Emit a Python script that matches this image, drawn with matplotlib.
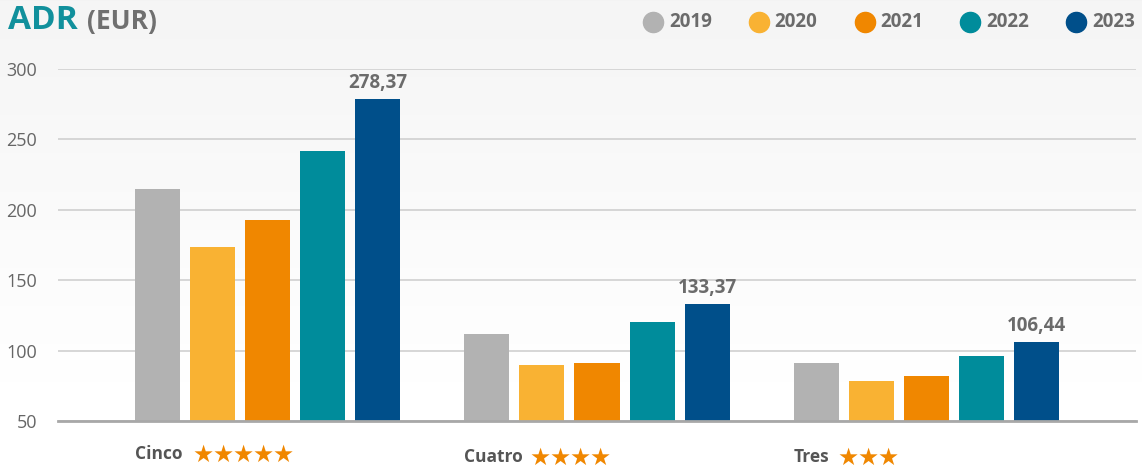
import matplotlib
matplotlib.use('Agg')
import matplotlib.pyplot as plt
import numpy as np
from matplotlib.lines import Line2D
import matplotlib.transforms as mtransforms

# ---------------- data ----------------
categories = ['Cinco', 'Cuatro', 'Tres']
star_counts = [5, 4, 3]
years = ['2019', '2020', '2021', '2022', '2023']
v2019 = [214.8, 111.8, 91.2]
v2020 = [173.6, 89.8, 78.4]
v2021 = [192.8, 91.2, 82.0]
v2022 = [241.8, 120.3, 96.2]
v2023 = [278.37, 133.37, 106.44]
labels_2023 = ['278,37', '133,37', '106,44']
yticks = [50, 100, 150, 200, 250, 300]

series = [v2019, v2020, v2021, v2022, v2023]
colors = ['#b2b2b2', '#f9b233', '#f08700', '#008c9b', '#004f8a']

W, H = 1142, 468
FONT = 'Open Sans'
GRAY_TXT = '#6b6b6b'

fig = plt.figure(figsize=(W / 100, H / 100), dpi=100)

# background gradient (light grey at top -> white near the axis)
bg = fig.add_axes([0, 0, 1, 1], zorder=-10)
rows = np.arange(H)
col = 0.957 + (1 - 0.957) * np.clip(rows / 420.0, 0, 1)
img = np.repeat(col[:, None], 4, axis=1)
bg.imshow(img, cmap='gray', vmin=0, vmax=1, aspect='auto',
          extent=[0, 1, 0, 1], interpolation='nearest')
bg.set_xlim(0, 1)
bg.set_ylim(0, 1)
bg.axis('off')

ax = fig.add_axes([58 / W, (H - 421) / H, 1078 / W, 352 / H])
ax.set_facecolor('none')

pitch = 55 / 329
width = 45 / 329
x = np.arange(len(categories))
for j, (vals_, c) in enumerate(zip(series, colors)):
    pos = x + (j - 2) * pitch
    ax.bar(pos, np.array(vals_) - 50, bottom=50, width=width, color=c, zorder=3)
    if j == 4:
        for p, v, lab in zip(pos, vals_, labels_2023):
            ax.annotate(lab, xy=(p, v), xytext=(0, 6), textcoords='offset pixels',
                        ha='center', va='bottom', fontsize=13.5, fontweight='bold',
                        color=GRAY_TXT, family=FONT, zorder=5)

ax.set_xlim(-0.638, 2.638)
ax.set_ylim(50, 300)
ax.set_yticks(yticks)
ax.set_yticklabels([str(t) for t in yticks], family=FONT, fontsize=13, color='#666666')
ax.tick_params(axis='y', length=0, pad=15)
ax.set_xticks([])
ax.grid(axis='y', color='#d6d6d6', linewidth=1.4, zorder=0)
for s in ['top', 'right', 'left']:
    ax.spines[s].set_visible(False)
ax.spines['bottom'].set_color('#a8a8a8')
ax.spines['bottom'].set_linewidth(2)
ax.spines['bottom'].set_zorder(4)

# category labels with stars
trans = mtransforms.blended_transform_factory(ax.transData, ax.transAxes)
star_gap = [10, 6, 8]
label_y = [-0.095, -0.101, -0.101]
for i, (cat, n) in enumerate(zip(categories, star_counts)):
    left = x[i] - 2 * pitch - width / 2
    t = ax.text(left, label_y[i], cat, transform=trans, ha='left', va='center',
                fontsize=12.5, fontweight='bold', color='#555555', family=FONT)
    for k in range(n):
        ax.annotate('★', xy=(1, 0.45), xycoords=t, xytext=(star_gap[i] + k * 20, 0),
                    textcoords='offset pixels', ha='left', va='center',
                    fontsize=17, color='#f08700', family='DejaVu Sans')

# title
fig.text(8 / W, 1 - 29 / H, 'ADR', ha='left', va='baseline', fontsize=24,
         fontweight='bold', color='#11909c', family=FONT)
fig.text(87 / W, 1 - 29 / H, '(EUR)', ha='left', va='baseline', fontsize=19,
         fontweight='bold', color='#707070', family=FONT)

# legend (manual, circles + labels)
for i, (yr, c) in enumerate(zip(years, colors)):
    cx = 653 + i * 105.75
    cy = 22
    fig.add_artist(Line2D([cx / W], [1 - cy / H], transform=fig.transFigure,
                          marker='o', markersize=14.5, color=c, linestyle='none'))
    fig.text((cx + 16) / W, 1 - cy / H, yr, ha='left', va='center', fontsize=13.5,
             fontweight='bold', color=GRAY_TXT, family=FONT)

fig.savefig('out.png', dpi=100)
